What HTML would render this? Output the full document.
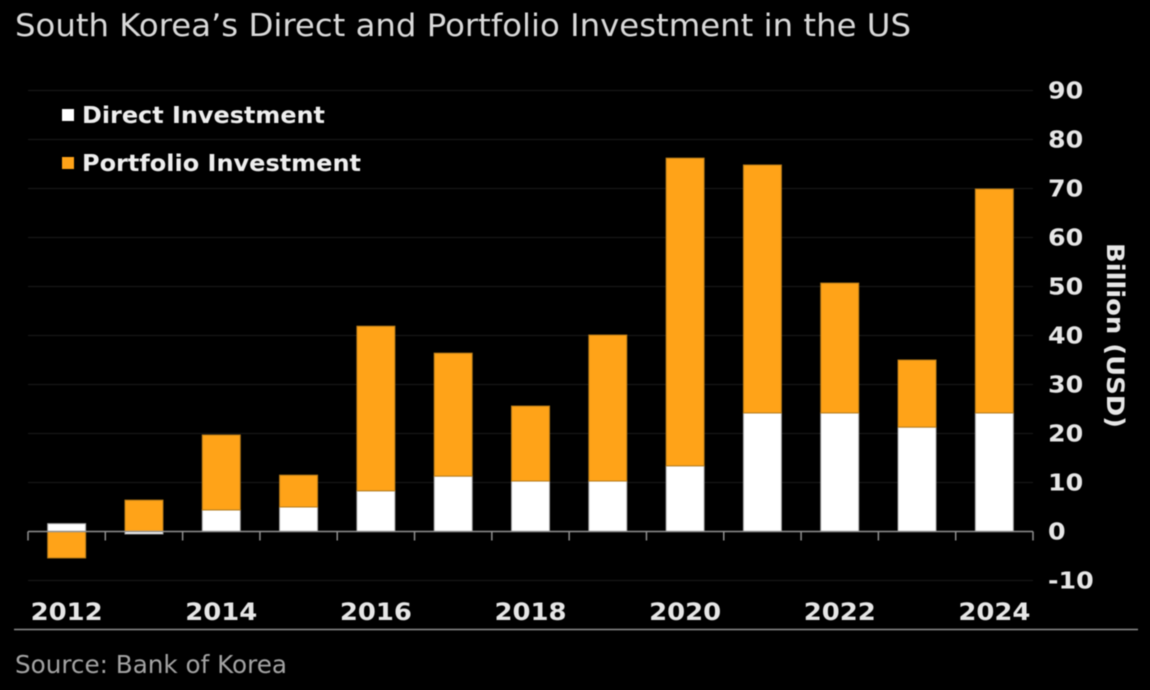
<!DOCTYPE html>
<html lang="en">
<head>
<meta charset="utf-8">
<title>South Korea's Direct and Portfolio Investment in the US</title>
<style>
html,body{margin:0;padding:0;background:#000;width:1150px;height:690px;overflow:hidden}
svg{display:block;filter:blur(.5px)}
text{font-family:"DejaVu Sans","Liberation Sans",sans-serif}
</style>
</head>
<body>
<svg id="chart" xmlns="http://www.w3.org/2000/svg" width="1150" height="690" viewBox="0 0 1150 690">
<rect width="1150" height="690" fill="#000"/>
<text x="15" y="36" font-size="31" fill="#d9d9d9" textLength="896" lengthAdjust="spacingAndGlyphs">South Korea’s Direct and Portfolio Investment in the US</text>
<g id="grid"></g>
<g id="bars"></g>
<g id="axis"></g>
<g id="yticks"></g>
<g id="xlabels"></g>
<text transform="translate(1107,243) rotate(90)" font-size="24" font-weight="bold" fill="#e6e6e6" textLength="185" lengthAdjust="spacingAndGlyphs">Billion (USD)</text>
<g>
<g>
<rect x="62" y="109" width="12" height="12" fill="#fff"/>
<text x="82" y="123" font-size="23" font-weight="bold" fill="#eeeeee" textLength="243" lengthAdjust="spacingAndGlyphs">Direct Investment</text>
</g>
<g>
<rect x="62" y="157" width="12" height="12" fill="#ffa318"/>
<text x="82" y="171" font-size="23" font-weight="bold" fill="#eeeeee" textLength="279" lengthAdjust="spacingAndGlyphs">Portfolio Investment</text>
</g>
</g>
<line x1="14" x2="1138" y1="629.5" y2="629.5" stroke="#8c8c8c" stroke-width="1.5"/>
<text x="15" y="673" font-size="25" fill="#a3a3a3" textLength="272" lengthAdjust="spacingAndGlyphs">Source: Bank of Korea</text>
</svg>
<script>
const years = [2012, 2013, 2014, 2015, 2016, 2017, 2018, 2019, 2020, 2021, 2022, 2023, 2024];
const directValues = [1.6, -0.5, 4.4, 5.0, 8.3, 11.3, 10.3, 10.3, 13.4, 24.2, 24.2, 21.3, 24.2];
const portfolioValues = [-5.4, 6.4, 15.3, 6.5, 33.6, 25.1, 15.3, 29.8, 62.8, 50.6, 26.5, 13.7, 45.7];
const yTickValues = [90, 80, 70, 60, 50, 40, 30, 20, 10, 0, -10];
const xLabelYears = [2012, 2014, 2016, 2018, 2020, 2022, 2024];

const NS = 'http://www.w3.org/2000/svg';
const PLOT_LEFT = 28, PLOT_RIGHT = 1033, BAR_W = 38;
const STEP = (PLOT_RIGHT - PLOT_LEFT) / years.length;
function yScale(v) { return 531.5 - v * 4.9; }
function xScale(i) { return PLOT_LEFT + STEP * (i + 0.5); }
function make(parent, tag, attrs) {
  const el = document.createElementNS(NS, tag);
  for (const k in attrs) el.setAttribute(k, attrs[k]);
  parent.appendChild(el);
  return el;
}
function widen(t, factor) {
  t.setAttribute('textLength', (t.getComputedTextLength() * factor).toFixed(1));
  t.setAttribute('lengthAdjust', 'spacingAndGlyphs');
}
const grid = document.getElementById('grid');
const barsG = document.getElementById('bars');
const axisG = document.getElementById('axis');
const yG = document.getElementById('yticks');
const xG = document.getElementById('xlabels');

yTickValues.forEach(function (v) {
  if (v !== 0) {
    const gl = make(grid, 'line', {x1: PLOT_LEFT, x2: PLOT_RIGHT, y1: yScale(v), y2: yScale(v), stroke: '#1a1a1a', 'stroke-width': 1});
    
    
  }
  const t = make(yG, 'text', {x: 1048, y: yScale(v) + 8, 'font-size': 23, 'font-weight': 'bold', fill: '#e6e6e6'});
  
  
  t.textContent = String(v);
  widen(t, 1.1);
});

function segment(i, from, to, fill, stroke, name) {
  const top = Math.min(yScale(from), yScale(to));
  const h = Math.abs(yScale(from) - yScale(to));
  const r = make(barsG, 'rect', {x: xScale(i) - BAR_W / 2, y: top, width: BAR_W, height: h, fill: fill, stroke: stroke, 'stroke-width': 1});
  
  
}
years.forEach(function (yr, i) {
  const d = directValues[i], p = portfolioValues[i];
  const pFrom = (d >= 0 && p >= 0) ? d : 0;
  const pTo = pFrom + p;
  segment(i, 0, d, '#ffffff', '#a8a8a8', 'bar-direct-' + yr);
  segment(i, pFrom, pTo, '#ffa318', '#b57a18', 'bar-portfolio-' + yr);
});

const axisLine = make(axisG, 'line', {x1: PLOT_LEFT, x2: PLOT_RIGHT, y1: yScale(0), y2: yScale(0), stroke: '#8f8f8f', 'stroke-width': 1.5});


for (let i = 0; i <= years.length; i++) {
  const x = PLOT_LEFT + STEP * i;
  const tick = make(axisG, 'line', {x1: x, x2: x, y1: yScale(0), y2: yScale(0) + 9, stroke: '#8f8f8f', 'stroke-width': 1.5});
  
  
}
xLabelYears.forEach(function (yr) {
  const i = years.indexOf(yr);
  const t = make(xG, 'text', {x: xScale(i) - 36, y: 620, 'font-size': 24, 'font-weight': 'bold', fill: '#e6e6e6'});
  
  
  t.textContent = String(yr);
  t.setAttribute('textLength', '72');
  t.setAttribute('lengthAdjust', 'spacingAndGlyphs');
});
</script>
</body>
</html>
